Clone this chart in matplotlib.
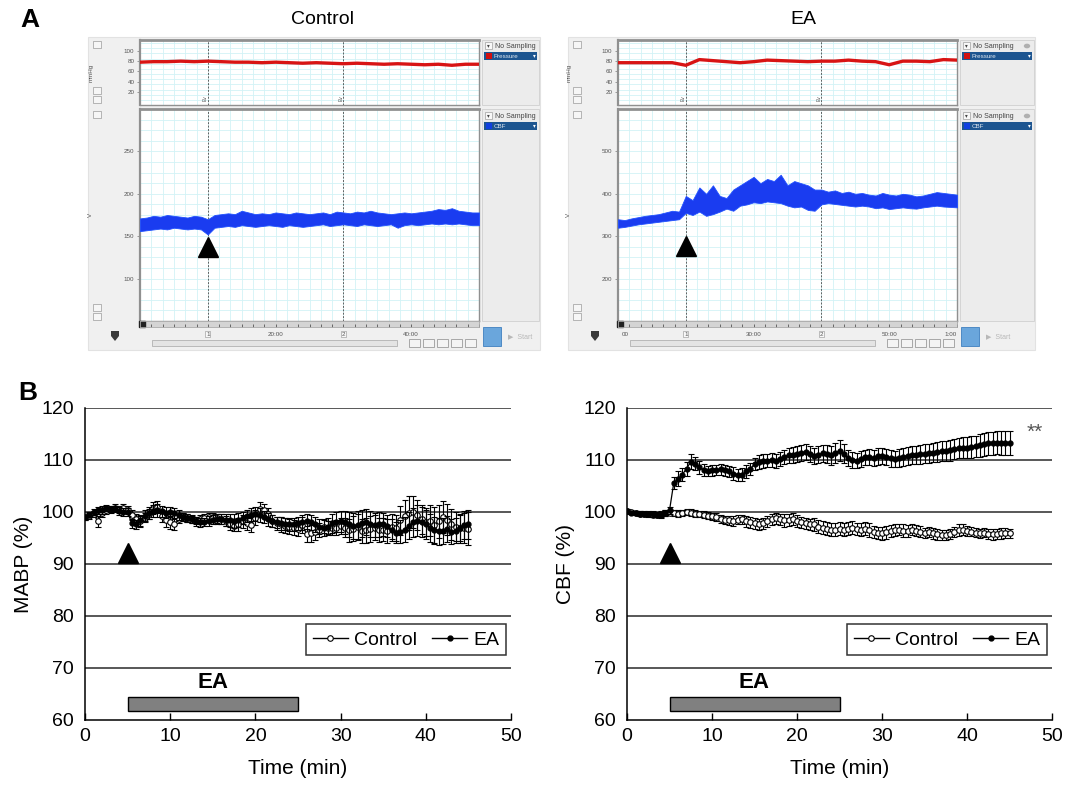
import numpy as np
import matplotlib
matplotlib.use("Agg")
import matplotlib.pyplot as plt
from matplotlib.patches import Rectangle, Polygon, Circle
from matplotlib.lines import Line2D

plt.rcParams["font.family"] = ["Liberation Sans", "DejaVu Sans"]

W, H = 1080, 788

# ---------------- panel A: traces ----------------
# control recording, 0-50 min
CTRL_PRESS_T = np.arange(0, 51, 2)
CTRL_PRESS = [78, 79, 79, 80, 79, 80, 79, 78, 78, 77, 78, 77, 76,
              77, 76, 75, 76, 75, 74, 75, 74, 73, 74, 72, 74, 74]
CTRL_CBF_T = np.arange(0, 51, 1)
CTRL_CBF_HI = [171, 172, 174, 173, 175, 174, 173, 172, 174, 173, 170, 175, 176,
               177, 176, 180, 178, 176, 177, 176, 178, 177, 176, 178, 177, 176,
               177, 178, 176, 179, 178, 177, 179, 178, 180, 178, 177, 176, 177,
               178, 177, 178, 179, 180, 182, 181, 183, 180, 179, 178, 178]
CTRL_CBF_LO = [156, 157, 158, 159, 158, 160, 159, 158, 159, 158, 152, 160, 161,
               162, 161, 163, 162, 161, 162, 163, 162, 161, 163, 162, 161, 162,
               163, 164, 162, 163, 164, 163, 162, 164, 163, 162, 163, 164, 160,
               163, 164, 163, 164, 165, 164, 165, 164, 165, 164, 163, 163]

# EA recording, 10-60 min
EA_PRESS_T = np.arange(10, 61, 2)
EA_PRESS = [77, 77, 77, 77, 77, 72, 83, 81, 79, 77, 79, 82, 81,
            80, 79, 80, 80, 82, 80, 79, 73, 80, 80, 79, 83, 82]
EA_CBF_T = np.arange(10, 61, 1)
EA_CBF_HI = [340, 338, 342, 345, 348, 350, 352, 356, 360, 358, 395, 385, 415,
             400, 420, 395, 390, 410, 420, 430, 440, 425, 435, 430, 445, 420,
             430, 425, 420, 410, 410, 405, 408, 402, 405, 400, 402, 398, 396,
             402, 398, 396, 400, 398, 394, 396, 400, 404, 402, 400, 398]
EA_CBF_LO = [320, 322, 325, 328, 330, 332, 334, 336, 338, 340, 355, 350, 358,
             348, 352, 358, 365, 360, 372, 375, 380, 378, 382, 380, 378, 372,
             368, 370, 362, 360, 375, 378, 376, 374, 372, 370, 372, 370, 366,
             368, 364, 366, 368, 366, 365, 368, 370, 372, 370, 369, 368]

# ---------------- panel B: mean +/- SEM, every 30 s ----------------
TIME = np.arange(0, 45.5, 0.5)

MABP_CTRL = [99.0, 99.3, 99.6, 98.2, 99.8, 100.3, 100.6, 100.8, 100.5, 100.7,
             100.4, 99.4, 98.6, 98.2, 98.9, 99.6, 100.8, 101.0, 99.2, 98.4,
             98.0, 97.6, 98.6, 99.1, 98.8, 98.5, 98.3, 98.6, 98.9, 99.0,
             99.1, 98.8, 98.6, 98.3, 97.6, 97.4, 97.6, 98.2, 97.9, 97.5,
             98.9, 100.6, 100.4, 99.6, 98.3, 97.8, 97.6, 97.4, 97.2, 97.0,
             96.8, 97.5, 95.8, 95.9, 96.2, 96.5, 97.2, 97.0, 96.9, 97.0,
             97.3, 97.0, 96.5, 96.8, 97.2, 96.4, 96.5, 96.8, 97.0, 96.5,
             96.6, 96.3, 97.2, 97.0, 98.4, 99.3, 99.8, 100.0, 99.5, 98.6,
             98.0, 98.3, 97.5, 98.2, 99.0, 98.5, 97.6, 97.2, 96.9, 97.0,
             96.8]
MABP_CTRL_ERR = [0.5, 0.6, 0.6, 1.0, 0.7, 0.6, 0.6, 0.7, 0.7, 0.8,
                 0.8, 1.0, 1.0, 1.0, 0.9, 1.0, 1.1, 1.2, 1.2, 1.2,
                 1.2, 1.1, 0.8, 0.8, 0.8, 0.7, 0.7, 0.8, 0.8, 0.8,
                 0.8, 0.9, 1.0, 1.0, 1.0, 1.1, 1.2, 1.2, 1.3, 1.3,
                 1.4, 1.3, 1.2, 1.2, 1.1, 1.3, 1.4, 1.4, 1.4, 1.5,
                 1.5, 1.6, 1.6, 1.6, 1.5, 1.4, 1.3, 1.3, 1.4, 1.5,
                 1.6, 1.8, 2.2, 2.4, 2.5, 2.3, 2.4, 2.5, 2.4, 2.3,
                 2.2, 2.3, 2.4, 2.5, 2.8, 3.0, 3.2, 3.1, 2.9, 2.8,
                 2.7, 3.0, 3.4, 3.2, 3.1, 3.0, 2.9, 2.8, 2.8, 2.9,
                 3.2]
MABP_EA = [99.0, 99.5, 100.0, 100.3, 100.4, 100.7, 100.5, 100.6, 100.2, 100.0,
           100.0, 97.8, 97.6, 98.4, 99.3, 99.8, 100.2, 100.3, 100.1, 99.9,
           100.0, 99.8, 99.4, 99.0, 98.8, 98.6, 98.2, 98.0, 98.1, 98.3,
           98.5, 98.7, 98.6, 98.5, 98.4, 98.3, 98.5, 98.8, 99.2, 99.5,
           99.6, 99.4, 99.0, 98.6, 98.3, 98.0, 97.8, 97.7, 97.6, 97.6,
           97.8, 98.0, 98.2, 98.0, 97.6, 97.2, 97.0, 97.2, 97.8, 98.1,
           98.2, 98.0, 97.6, 97.3, 97.5, 97.8, 98.0, 97.7, 97.5, 97.6,
           97.6, 97.3, 96.6, 96.0, 96.2, 96.6, 97.4, 98.0, 98.3, 98.0,
           97.6, 97.0, 96.5, 96.3, 96.4, 96.8, 96.2, 96.4, 97.0, 97.5,
           97.6]
MABP_EA_ERR = [0.5, 0.5, 0.6, 0.6, 0.7, 0.6, 0.6, 0.6, 0.7, 0.7,
               0.8, 0.9, 0.9, 1.0, 1.0, 1.1, 1.2, 1.2, 1.1, 1.0,
               1.0, 0.9, 0.9, 0.8, 0.8, 0.8, 0.8, 0.8, 0.8, 0.9,
               0.9, 1.0, 1.0, 1.1, 1.2, 1.3, 1.3, 1.2, 1.2, 1.2,
               1.3, 1.3, 1.2, 1.2, 1.1, 1.1, 1.2, 1.2, 1.3, 1.3,
               1.3, 1.4, 1.4, 1.5, 1.5, 1.5, 1.6, 1.7, 1.8, 1.9,
               2.0, 2.2, 2.4, 2.5, 2.6, 2.6, 2.5, 2.5, 2.4, 2.4,
               2.3, 2.2, 2.1, 2.0, 2.2, 2.4, 2.6, 2.8, 3.0, 2.9,
               2.8, 2.7, 2.6, 2.6, 2.5, 2.5, 2.4, 2.4, 2.5, 2.6,
               2.7]

CBF_CTRL = [100.2, 100.0, 99.8, 99.7, 99.6, 99.6, 99.5, 99.5, 99.6, 99.8,
            99.9, 99.8, 99.7, 99.8, 100.0, 99.9, 99.7, 99.6, 99.5, 99.3,
            99.2, 99.0, 98.7, 98.4, 98.4, 98.3, 98.5, 98.6, 98.2, 98.0,
            97.8, 97.6, 97.8, 98.2, 98.6, 98.8, 98.6, 98.4, 98.5, 98.7,
            98.3, 98.0, 97.8, 97.6, 97.6, 97.2, 97.0, 96.8, 96.6, 96.6,
            96.8, 96.6, 96.8, 97.0, 96.7, 96.6, 96.8, 96.5, 96.2, 96.0,
            95.9, 96.1, 96.3, 96.5, 96.6, 96.4, 96.3, 96.6, 96.4, 96.2,
            96.0, 96.1, 95.9, 95.7, 95.6, 95.6, 95.8, 96.2, 96.5, 96.6,
            96.4, 96.2, 96.0, 95.9, 96.0, 95.8, 95.7, 95.8, 95.9, 96.0,
            95.9]
CBF_CTRL_ERR = [0.3, 0.3, 0.4, 0.4, 0.4, 0.4, 0.5, 0.5, 0.5, 0.5,
                0.5, 0.5, 0.6, 0.6, 0.6, 0.6, 0.6, 0.6, 0.7, 0.7,
                0.7, 0.8, 0.8, 0.8, 0.9, 0.9, 0.9, 0.9, 1.0, 1.0,
                1.0, 1.0, 1.0, 1.0, 1.1, 1.1, 1.1, 1.2, 1.2, 1.2,
                1.1, 1.1, 1.1, 1.1, 1.2, 1.2, 1.2, 1.2, 1.3, 1.3,
                1.3, 1.3, 1.2, 1.2, 1.2, 1.2, 1.3, 1.3, 1.2, 1.2,
                1.2, 1.2, 1.2, 1.1, 1.1, 1.2, 1.2, 1.1, 1.1, 1.1,
                1.0, 1.0, 1.0, 1.0, 1.0, 1.0, 1.0, 1.0, 1.1, 1.1,
                1.0, 0.9, 0.9, 0.9, 0.9, 0.9, 1.0, 1.0, 1.0, 1.0,
                0.9]
CBF_EA = [100.2, 99.9, 99.8, 99.7, 99.7, 99.6, 99.6, 99.5, 99.4, 99.8,
          100.3, 105.6, 106.4, 107.2, 108.3, 109.7, 109.3, 108.6, 108.1, 107.9,
          108.0, 108.1, 108.2, 108.0, 107.8, 107.4, 107.1, 107.2, 107.8, 108.3,
          109.2, 109.6, 109.8, 109.9, 110.0, 109.8, 110.2, 110.6, 110.9, 111.0,
          111.2, 111.4, 111.5, 111.2, 110.8, 111.0, 111.3, 111.1, 110.9, 111.3,
          111.8, 111.2, 110.4, 110.0, 109.9, 110.2, 110.5, 110.6, 110.4, 110.7,
          110.8, 110.6, 110.3, 110.2, 110.4, 110.6, 110.8, 110.9, 111.0, 111.1,
          111.2, 111.3, 111.4, 111.5, 111.7, 111.8, 111.9, 112.1, 112.3, 112.4,
          112.4, 112.5, 112.6, 112.8, 113.0, 113.2, 113.2, 113.3, 113.2, 113.3,
          113.3]
CBF_EA_ERR = [0.3, 0.3, 0.4, 0.4, 0.5, 0.5, 0.5, 0.5, 0.6, 0.6,
              0.6, 1.2, 1.4, 1.3, 1.3, 1.4, 1.3, 1.2, 1.1, 1.0,
              1.0, 1.0, 1.1, 1.1, 1.1, 1.2, 1.2, 1.2, 1.2, 1.2,
              1.2, 1.3, 1.3, 1.3, 1.3, 1.4, 1.4, 1.4, 1.4, 1.5,
              1.5, 1.5, 1.5, 1.5, 1.5, 1.6, 1.6, 1.7, 1.8, 1.9,
              2.0, 1.8, 1.6, 1.5, 1.5, 1.5, 1.5, 1.5, 1.5, 1.6,
              1.6, 1.6, 1.6, 1.6, 1.7, 1.7, 1.7, 1.7, 1.7, 1.8,
              1.8, 1.8, 1.8, 1.9, 1.9, 1.9, 2.0, 2.0, 2.0, 2.1,
              2.1, 2.1, 2.1, 2.2, 2.2, 2.2, 2.2, 2.2, 2.3, 2.3,
              2.3]


def px_axes(fig, x0, y0, x1, y1):
    return fig.add_axes([x0 / W, 1 - y1 / H, (x1 - x0) / W, (y1 - y0) / H])


def px_rect(fig, x0, y0, x1, y1, **kw):
    # figure-level chrome sits below the axes (zorder < 0)
    kw.setdefault("zorder", -1)
    fig.patches.append(Rectangle((x0 / W, 1 - y1 / H), (x1 - x0) / W, (y1 - y0) / H,
                                 transform=fig.transFigure, **kw))


def px_text(fig, x, y, s, **kw):
    fig.text(x / W, 1 - y / H, s, **kw)


def style_trace_ax(ax, tlim, ylim, xgrid, ygrid, yticks, ylabel):
    ax.set_xlim(*tlim)
    ax.set_ylim(*ylim)
    ax.set_facecolor("white")
    for x in np.arange(tlim[0], tlim[1] + 0.01, xgrid):
        ax.axvline(x, color="#d2f2f6", lw=0.6, zorder=0)
    for y in np.arange(ylim[0], ylim[1] + 0.01, ygrid):
        ax.axhline(y, color="#d2f2f6", lw=0.6, zorder=0)
    ax.set_xticks([])
    ax.set_yticks(yticks)
    ax.set_yticklabels([str(v) for v in yticks], fontsize=4.5, color="#555555")
    ax.tick_params(axis="y", length=2, width=0.5, color="#777777", pad=2)
    for sp in ax.spines.values():
        sp.set_color("#909090")
        sp.set_linewidth(1.0)
    ax.spines["left"].set_linewidth(1.6)
    ax.spines["top"].set_linewidth(2.0)
    ax.set_ylabel(ylabel, fontsize=4.5, color="#555555", labelpad=22)


def side_item(fig, x0, x1, y, name, swatch):
    # "No Sampling" header plus the highlighted channel row
    px_rect(fig, x0 + 3, y - 4, x0 + 10, y + 3, facecolor="#f8f8f8", edgecolor="#a0a0a0", lw=0.5)
    px_text(fig, x0 + 6.5, y, "▾", fontsize=4, ha="center", va="center", color="#444444")
    px_text(fig, x0 + 13, y, "No Sampling", fontsize=5, va="center", color="#444444")
    if x1 - x0 > 65:
        fig.patches.append(Circle(((x1 - 8) / W, 1 - y / H), 3.2 / W, transform=fig.transFigure,
                                  facecolor="#b0b0b0", edgecolor="none", zorder=-1))
    px_rect(fig, x0 + 2, y + 6, x1 - 3, y + 14, facecolor="#1d5590", edgecolor="none")
    px_rect(fig, x0 + 4, y + 7.5, x0 + 10, y + 12.5, facecolor=swatch, edgecolor="none")
    px_text(fig, x0 + 12, y + 10, name, fontsize=4.5, va="center", color="#e0e8f0")
    px_text(fig, x1 - 6, y + 10, "▾", fontsize=4, ha="center", va="center", color="white")


def draw_screen(fig, fx0, px0, px1, fx1, tlim, p_t, press, c_t, c_lo, c_hi,
                cbf_lim, cbf_ticks, cbf_grid, marks, tri_y, labels):
    # window chrome
    px_rect(fig, fx0, 37, fx1, 350, facecolor="#f0f0f0", edgecolor="#e2e2e2", lw=0.8, zorder=-3)
    side0 = px1 + 3
    px_rect(fig, side0, 40, fx1 - 1, 105, facecolor="#ececec", edgecolor="#d0d0d0", lw=0.6, zorder=-2)
    px_rect(fig, side0, 109, fx1 - 1, 321, facecolor="#ececec", edgecolor="#d0d0d0", lw=0.6, zorder=-2)
    side_item(fig, side0, fx1, 46, "Pressure", "#d01010")
    side_item(fig, side0, fx1, 116, "CBF", "#1040e0")

    # little zoom buttons in the left gutter
    for yb in (44, 90, 99, 114, 307, 316):
        px_rect(fig, fx0 + 5, yb - 3.5, fx0 + 13, yb + 3.5, facecolor="#f6f6f6",
                edgecolor="#9a9a9a", lw=0.5)
    # logo shield at bottom left
    cx, cy = fx0 + 27, 336
    shield = [(cx - 4, cy - 5), (cx + 4, cy - 5), (cx + 4, cy), (cx, cy + 5), (cx - 4, cy)]
    fig.patches.append(Polygon([(x / W, 1 - y / H) for x, y in shield], closed=True,
                               transform=fig.transFigure, facecolor="#3a3a3a",
                               edgecolor="none", zorder=-1))

    # pressure strip
    ax1 = px_axes(fig, px0, 40, px1, 105)
    style_trace_ax(ax1, tlim, (-5, 121), 5 / 3, 10, [20, 40, 60, 80, 100], "mmHg")
    ax1.plot(p_t, press, color="#d81414", lw=2.4, zorder=3)
    for m in marks:
        ax1.axvline(m, color="#606060", lw=0.7, ls=(0, (2, 1.5)), zorder=2)
        ax1.text(m, 2, "Ev", fontsize=3.5, rotation=90, ha="right", va="bottom", color="#555555")

    # CBF strip
    ax2 = px_axes(fig, px0, 109, px1, 321)
    style_trace_ax(ax2, tlim, cbf_lim, 5 / 3, cbf_grid, cbf_ticks, "V")
    ax2.fill_between(c_t, c_lo, c_hi, color="#1a3cf0", lw=0.6, edgecolor="#2050ff", zorder=3)
    for m in marks:
        ax2.axvline(m, color="#606060", lw=0.7, ls=(0, (2, 1.5)), zorder=2)
    ax2.plot(marks[0], tri_y, marker="^", ms=15, color="black", zorder=5)

    # time ruler
    ax3 = px_axes(fig, px0, 321, px1, 327)
    ax3.set_xlim(*tlim)
    ax3.set_ylim(0, 1)
    ax3.set_facecolor("#d4d4d4")
    ax3.set_yticks([])
    ax3.set_xticks(np.arange(tlim[0], tlim[1] + 0.01, 5 / 3))
    ax3.set_xticklabels([])
    ax3.tick_params(axis="x", direction="in", length=2, width=0.6, color="#555555")
    for sp in ax3.spines.values():
        sp.set_color("#a8a8a8")
        sp.set_linewidth(0.6)
    for t, s in labels:
        xp = px0 + (t - tlim[0]) / (tlim[1] - tlim[0]) * (px1 - px0)
        px_text(fig, xp, 334, s, fontsize=4.5, ha="center", va="center", color="#555555",
                bbox=dict(boxstyle="square,pad=0.15", fc="#f8f8f8", ec="#909090", lw=0.4)
                if s in ("1", "2") else None)
    ax3.plot(tlim[0] + 0.3, 0.5, marker="s", ms=4, color="#222222", clip_on=False)

    # scrollbar, nav buttons, start button
    px_rect(fig, px0 + 12, 340, px1 - 82, 346, facecolor="#e4e4e4", edgecolor="#a6a6a6", lw=0.5)
    for k in range(5):
        bx = px1 - 70 + k * 14
        px_rect(fig, bx, 339, bx + 11, 347, facecolor="#f4f4f4", edgecolor="#8a8a8a", lw=0.5)
    px_rect(fig, side0 + 1, 327, side0 + 19, 346, facecolor="#6aa6dc", edgecolor="#3f7fbf", lw=0.6)
    px_text(fig, side0 + 26, 337, "▶  Start", fontsize=5, va="center", color="#b8b8b8")


def draw_b(ax, ctrl, ctrl_err, ea, ea_err, ylabel):
    ax.set_xlim(0, 50)
    ax.set_ylim(60, 120)
    for y in range(70, 121, 10):
        ax.axhline(y, color="#2a2a2a", lw=1.1, zorder=1)
    ax.errorbar(TIME, ctrl, yerr=ctrl_err, fmt="-o", color="black", mfc="white", mec="black",
                ms=4, mew=0.8, lw=0.9, capsize=2.5, elinewidth=0.8, capthick=0.8, zorder=3)
    ax.errorbar(TIME, ea, yerr=ea_err, fmt="-o", color="black", mfc="black",
                ms=3.5, lw=0.9, capsize=2.5, elinewidth=0.8, capthick=0.8, zorder=4)
    ax.plot(5, 92.2, marker="^", ms=14, color="black", zorder=5)
    ax.add_patch(Rectangle((5, 61.7), 20, 2.7, facecolor="#808080", edgecolor="black", lw=1, zorder=4))
    ax.text(15, 67.3, "EA", fontsize=16, fontweight="bold", ha="center", va="center")

    for side in ("top", "right"):
        ax.spines[side].set_visible(False)
    for side in ("left", "bottom"):
        ax.spines[side].set_linewidth(1.1)
    ax.set_xticks(range(0, 51, 10))
    ax.set_yticks(range(60, 121, 10))
    ax.tick_params(axis="x", direction="in", length=5, width=1, labelsize=14, pad=6)
    ax.tick_params(axis="y", length=0, labelsize=14, pad=8)
    ax.set_xlabel("Time (min)", fontsize=15, labelpad=10)
    ax.set_ylabel(ylabel, fontsize=15, labelpad=6)

    handles = [Line2D([], [], color="black", lw=1, marker="o", ms=4, mfc="white", mew=0.8),
               Line2D([], [], color="black", lw=1, marker="o", ms=3.5, mfc="black")]
    leg = ax.legend(handles, ["Control", "EA"], ncol=2, loc="upper right",
                    bbox_to_anchor=(0.988, 0.307), borderaxespad=0, fontsize=14,
                    frameon=True, fancybox=False, edgecolor="black", handlelength=1.8,
                    handletextpad=0.3, columnspacing=0.8, borderpad=0.35)
    leg.get_frame().set_linewidth(1.1)
    leg.set_zorder(6)


fig = plt.figure(figsize=(W / 100, H / 100), dpi=100)

# panel A
px_text(fig, 30, 20, "A", fontsize=19, fontweight="bold", ha="center", va="center")
px_text(fig, 323, 20, "Control", fontsize=14, ha="center", va="center")
px_text(fig, 803, 20, "EA", fontsize=14, ha="center", va="center")

draw_screen(fig, 88, 140, 479, 540, (0, 50), CTRL_PRESS_T, CTRL_PRESS,
            CTRL_CBF_T, CTRL_CBF_LO, CTRL_CBF_HI, (50, 300),
            [100, 150, 200, 250], 12.5, [10, 30], 137,
            [(10, "1"), (20, "20:00"), (30, "2"), (40, "40:00")])
draw_screen(fig, 568, 618, 957, 1035, (10, 60), EA_PRESS_T, EA_PRESS,
            EA_CBF_T, EA_CBF_LO, EA_CBF_HI, (100, 600),
            [200, 300, 400, 500], 25, [20, 40], 276,
            [(11, "00"), (20, "1"), (30, "30:00"), (40, "2"), (50, "50:00"), (59, "1:00")])

# panel B
px_text(fig, 28, 393, "B", fontsize=19, fontweight="bold", ha="center", va="center")
axL = px_axes(fig, 85, 408, 511, 720)
draw_b(axL, MABP_CTRL, MABP_CTRL_ERR, MABP_EA, MABP_EA_ERR, "MABP (%)")
axR = px_axes(fig, 627, 408, 1052, 720)
draw_b(axR, CBF_CTRL, CBF_CTRL_ERR, CBF_EA, CBF_EA_ERR, "CBF (%)")
axR.text(48.0, 115.4, "**", fontsize=15, ha="center", va="center", color="#555555")

fig.savefig("out.png", dpi=100)
